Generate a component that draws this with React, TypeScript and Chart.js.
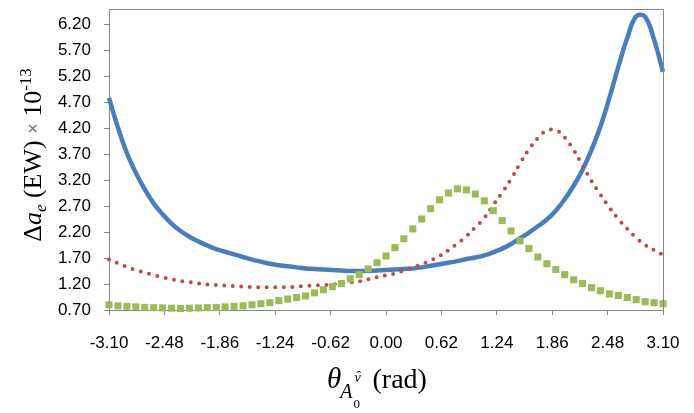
import React, { useEffect, useRef } from 'react';
import { Chart, registerables } from 'chart.js';

Chart.register(...registerables);

// theta (rad) sample points
const theta = [
  -3.1, -3.0, -2.9, -2.8, -2.7, -2.6, -2.5, -2.4, -2.3, -2.2, -2.1, -2.0, -1.9, -1.8, -1.7, -1.6,
  -1.5, -1.4, -1.3, -1.2, -1.1, -1.0, -0.9, -0.8, -0.7, -0.6, -0.5, -0.4, -0.3, -0.2, -0.1, 0.0,
  0.1, 0.2, 0.3, 0.4, 0.5, 0.6, 0.7, 0.8, 0.9, 1.0, 1.1, 1.2, 1.3, 1.4, 1.5, 1.6,
  1.7, 1.8, 1.9, 2.0, 2.1, 2.2, 2.3, 2.4, 2.5, 2.6, 2.7, 2.8, 2.9, 3.0, 3.1,
];

const blueSeries = [
  4.78, 4.21, 3.72, 3.34, 3.02, 2.75, 2.54, 2.36, 2.22, 2.11, 2.02, 1.94, 1.87, 1.82, 1.77, 1.72,
  1.67, 1.63, 1.59, 1.56, 1.54, 1.52, 1.50, 1.49, 1.48, 1.47, 1.46, 1.45, 1.45, 1.45, 1.46, 1.47,
  1.48, 1.49, 1.50, 1.52, 1.55, 1.58, 1.61, 1.64, 1.68, 1.71, 1.75, 1.81, 1.88, 1.97, 2.08, 2.19,
  2.31, 2.44, 2.61, 2.83, 3.09, 3.40, 3.78, 4.23, 4.78, 5.38, 5.93, 6.35, 6.34, 5.90, 5.28,
];

const redSeries = [
  1.67, 1.60, 1.53, 1.47, 1.42, 1.37, 1.33, 1.29, 1.26, 1.24, 1.21, 1.19, 1.18, 1.17, 1.16, 1.15,
  1.14, 1.14, 1.14, 1.14, 1.14, 1.15, 1.16, 1.17, 1.18, 1.19, 1.21, 1.23, 1.25, 1.29, 1.33, 1.37,
  1.40, 1.46, 1.52, 1.58, 1.65, 1.74, 1.85, 1.98, 2.12, 2.29, 2.47, 2.72, 2.96, 3.22, 3.52, 3.79,
  4.01, 4.15, 4.16, 4.02, 3.78, 3.48, 3.18, 2.92, 2.67, 2.45, 2.26, 2.09, 1.95, 1.85, 1.76,
];

const greenSeries = [
  0.80, 0.78, 0.77, 0.76, 0.75, 0.745, 0.74, 0.735, 0.73, 0.735, 0.74, 0.745, 0.75, 0.76, 0.77, 0.78,
  0.80, 0.82, 0.84, 0.88, 0.91, 0.94, 0.97, 1.03, 1.09, 1.15, 1.21, 1.30, 1.38, 1.49, 1.61, 1.74,
  1.90, 2.07, 2.26, 2.45, 2.65, 2.82, 2.95, 3.03, 3.01, 2.93, 2.80, 2.61, 2.42, 2.22, 2.03, 1.88,
  1.72, 1.59, 1.48, 1.38, 1.28, 1.21, 1.13, 1.07, 1.01, 0.98, 0.94, 0.90, 0.86, 0.84, 0.82,
];

const xTickValues = [-3.1, -2.48, -1.86, -1.24, -0.62, 0, 0.62, 1.24, 1.86, 2.48, 3.1];
const yTickValues = [0.7, 1.2, 1.7, 2.2, 2.7, 3.2, 3.7, 4.2, 4.7, 5.2, 5.7, 6.2];

const AXIS_GREY = '#868686';
const SERIF = '"Liberation Serif", "Times New Roman", serif';
const SANS = '"Liberation Sans", Arial, sans-serif';

type Piece = { text: string; font: string; dy?: number; dx?: number; adv?: number; color?: string };

function piecesWidth(ctx: CanvasRenderingContext2D, pieces: Piece[]) {
  let w = 0;
  for (const p of pieces) {
    ctx.font = p.font;
    w += p.adv ?? ctx.measureText(p.text).width;
  }
  return w;
}

function drawPieces(ctx: CanvasRenderingContext2D, pieces: Piece[], x0: number, y0: number) {
  let x = x0;
  for (const p of pieces) {
    ctx.font = p.font;
    ctx.fillStyle = p.color ?? '#000';
    ctx.fillText(p.text, x + (p.dx ?? 0), y0 + (p.dy ?? 0));
    x += p.adv ?? ctx.measureText(p.text).width;
  }
}

const xTitle: Piece[] = [
  { text: 'θ', font: `italic 29px ${SERIF}` },
  { text: 'A', font: `italic 20px ${SERIF}`, dy: 10, dx: -1 },
  { text: '0', font: `13px ${SERIF}`, dy: 20, adv: 0 },
  { text: 'ˆ', font: `14px ${SERIF}`, dy: -7, dx: 3, adv: 0 },
  { text: 'ν', font: `italic 14px ${SERIF}`, dy: -6, dx: 1, adv: 12 },
  { text: ' (rad)', font: `28px ${SERIF}` },
];

const yTitle: Piece[] = [
  { text: 'Δ', font: `26px ${SERIF}` },
  { text: 'a', font: `italic 26px ${SERIF}` },
  { text: 'e', font: `italic 17px ${SERIF}`, dy: 5 },
  { text: ' (EW) ', font: `26px ${SERIF}` },
  { text: '×', font: `18px ${SANS}`, color: '#777', dy: -2 },
  { text: ' 10', font: `26px ${SERIF}` },
  { text: '-13', font: `17px ${SERIF}`, dy: -10 },
];

const decorPlugin = {
  id: 'decor',
  afterDraw(chart: Chart) {
    const { ctx, chartArea } = chart;
    ctx.save();
    // frame on top and right of the plot area
    ctx.strokeStyle = AXIS_GREY;
    ctx.lineWidth = 1;
    ctx.beginPath();
    ctx.moveTo(chartArea.left, chartArea.top + 0.5);
    ctx.lineTo(chartArea.right + 0.5, chartArea.top + 0.5);
    ctx.lineTo(chartArea.right + 0.5, chartArea.bottom);
    ctx.stroke();

    ctx.textBaseline = 'alphabetic';
    ctx.textAlign = 'left';

    const xw = piecesWidth(ctx, xTitle);
    drawPieces(ctx, xTitle, 377 - xw / 2, 388);

    const yw = piecesWidth(ctx, yTitle);
    ctx.translate(41, 155);
    ctx.rotate(-Math.PI / 2);
    drawPieces(ctx, yTitle, -yw / 2, 0);
    ctx.restore();
  },
};

export default function App() {
  const canvas = useRef<HTMLCanvasElement | null>(null);

  useEffect(() => {
    const item = canvas.current?.getContext('2d');
    if (!item) return;
    const pts = (ys: number[]) => theta.map((x, i) => ({ x, y: ys[i] }));
    const chart = new Chart(item, {
      type: 'scatter',
      data: {
        datasets: [
          {
            data: pts(greenSeries),
            showLine: false,
            pointStyle: 'rect',
            pointRadius: 5,
            pointBackgroundColor: '#9bbb59',
            pointBorderWidth: 0,
            clip: false,
          },
          {
            data: pts(redSeries),
            showLine: true,
            borderColor: '#be4b48',
            borderWidth: 4,
            borderDash: [0, 8.5],
            borderCapStyle: 'round',
            tension: 0.4,
            pointRadius: 0,
            clip: false,
          },
          {
            data: pts(blueSeries),
            showLine: true,
            borderColor: '#4a7ebb',
            borderWidth: 4.5,
            tension: 0.4,
            pointRadius: 0,
            clip: false,
          },
        ],
      },
      options: {
        animation: false,
        responsive: true,
        maintainAspectRatio: false,
        layout: { padding: { top: 9, right: 31, left: 0, bottom: 0 } },
        plugins: { legend: { display: false }, tooltip: { enabled: false } },
        scales: {
          x: {
            type: 'linear',
            min: -3.1,
            max: 3.1,
            afterBuildTicks: (s: any) => {
              s.ticks = xTickValues.map((v) => ({ value: v }));
            },
            afterFit: (s: any) => {
              s.height = 103;
              s.paddingLeft = 0;
              s.paddingRight = 0;
            },
            ticks: {
              callback: (v: any) => Number(v).toFixed(2),
              font: { family: SANS, size: 17 },
              color: '#000',
              padding: 18,
              maxRotation: 0,
              autoSkip: false,
            },
            grid: { drawOnChartArea: false, drawTicks: true, tickLength: 5, color: AXIS_GREY },
            border: { color: AXIS_GREY },
          },
          y: {
            type: 'linear',
            min: 0.7,
            max: 6.49,
            afterBuildTicks: (s: any) => {
              s.ticks = yTickValues.map((v) => ({ value: v }));
            },
            afterFit: (s: any) => {
              s.width = 109;
              s.paddingTop = 0;
              s.paddingBottom = 0;
            },
            ticks: {
              callback: (v: any) => Number(v).toFixed(2),
              font: { family: SANS, size: 17 },
              color: '#000',
              padding: 13,
              autoSkip: false,
            },
            grid: { drawOnChartArea: false, drawTicks: true, tickLength: 5, color: AXIS_GREY },
            border: { color: AXIS_GREY },
          },
        },
      },
      plugins: [decorPlugin],
    });
    return () => chart.destroy();
  });

  return (
    <div style={{ position: 'absolute', left: 0, top: 0, width: 694, height: 413, background: '#fff' }}>
      <canvas ref={canvas} />
    </div>
  );
}
